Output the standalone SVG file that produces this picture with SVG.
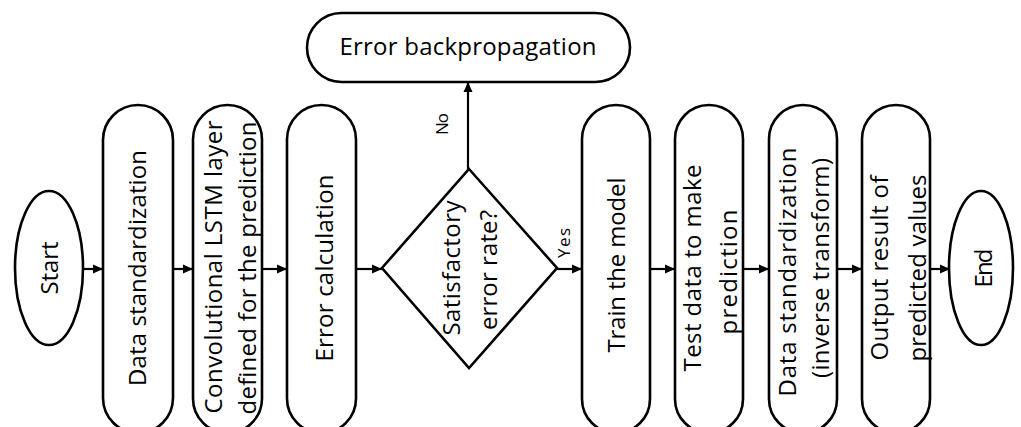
<svg xmlns="http://www.w3.org/2000/svg" width="1021" height="427" viewBox="0 0 1021 427">
<style>
.shape{fill:#fff;stroke:#000;stroke-width:2.6}
.t{font-family:"Open Sans","Noto Sans",sans-serif;font-size:24px;fill:#000;text-anchor:middle}
.s{font-family:"Open Sans","Noto Sans",sans-serif;font-size:17px;fill:#000;text-anchor:middle}
.c{stroke:#000;stroke-width:2.2;fill:none;marker-end:url(#ah)}
</style>
<defs>
<marker id="ah" viewBox="0 0 10 10" refX="10" refY="5" markerWidth="10" markerHeight="10" markerUnits="userSpaceOnUse" orient="auto">
<path d="M0,0.5 L10,5 L0,9.5 z" fill="#000"/>
</marker>
</defs>
<rect width="1021" height="427" fill="#fff"/>
<g id="connectors">
<line class="c" x1="83" y1="269" x2="103" y2="269"/>
<line class="c" x1="173" y1="269" x2="193" y2="269"/>
<line class="c" x1="262" y1="269" x2="287" y2="269"/>
<line class="c" x1="356" y1="269" x2="382" y2="269"/>
<line class="c" x1="557" y1="269" x2="582" y2="269"/>
<line class="c" x1="650" y1="269" x2="675" y2="269"/>
<line class="c" x1="743" y1="269" x2="769" y2="269"/>
<line class="c" x1="837" y1="269" x2="862" y2="269"/>
<line class="c" x1="930" y1="269" x2="950" y2="269"/>
<line class="c" x1="468" y1="169" x2="468" y2="82"/>
<text class="s" transform="translate(448,124) rotate(-90)" textLength="22" lengthAdjust="spacing">No</text>
<text class="s" transform="translate(570,243) rotate(-90)" textLength="30" lengthAdjust="spacing">Yes</text>
</g>
<g id="start">
<ellipse class="shape" cx="49" cy="268" rx="34" ry="77"/>
<text class="t" transform="translate(58,268) rotate(-90)" textLength="53" lengthAdjust="spacing">Start</text>
</g>
<g id="data-std">
<rect class="shape" x="103" y="105" width="70" height="328" rx="35"/>
<text class="t" transform="translate(146,268) rotate(-90)" textLength="236" lengthAdjust="spacing">Data standardization</text>
</g>
<g id="convlstm">
<rect class="shape" x="193" y="105" width="69" height="328" rx="34.5"/>
<text class="t" transform="translate(222,267) rotate(-90)" textLength="293" lengthAdjust="spacing">Convolutional LSTM layer</text>
<text class="t" transform="translate(256,268) rotate(-90)" textLength="293" lengthAdjust="spacing">defined for the prediction</text>
</g>
<g id="error-calc">
<rect class="shape" x="287" y="105" width="69" height="328" rx="34.5"/>
<text class="t" transform="translate(333,268) rotate(-90)" textLength="187" lengthAdjust="spacing">Error calculation</text>
</g>
<g id="decision">
<polygon class="shape" points="469,169 557,268 469,368 382,268"/>
<text class="t" transform="translate(460,268) rotate(-90)" textLength="135" lengthAdjust="spacing">Satisfactory</text>
<text class="t" transform="translate(497,270) rotate(-90)" textLength="120" lengthAdjust="spacing">error rate?</text>
</g>
<g id="backprop">
<rect class="shape" x="307" y="13" width="323" height="69" rx="34.5"/>
<text class="t" x="468" y="55" textLength="257" lengthAdjust="spacing">Error backpropagation</text>
</g>
<g id="train">
<rect class="shape" x="582" y="105" width="68" height="328" rx="34"/>
<text class="t" transform="translate(625,265) rotate(-90)" textLength="175" lengthAdjust="spacing">Train the model</text>
</g>
<g id="test">
<rect class="shape" x="675" y="105" width="68" height="328" rx="34"/>
<text class="t" transform="translate(701,268) rotate(-90)" textLength="207" lengthAdjust="spacing">Test data to make</text>
<text class="t" transform="translate(737,272) rotate(-90)" textLength="125" lengthAdjust="spacing">prediction</text>
</g>
<g id="data-inv">
<rect class="shape" x="769" y="105" width="68" height="328" rx="34"/>
<text class="t" transform="translate(796,272) rotate(-90)" textLength="249" lengthAdjust="spacing">Data standardization</text>
<text class="t" transform="translate(829,268) rotate(-90)" textLength="220" lengthAdjust="spacing">(inverse transform)</text>
</g>
<g id="output">
<rect class="shape" x="862" y="105" width="68" height="328" rx="34"/>
<text class="t" transform="translate(888,268) rotate(-90)" textLength="185" lengthAdjust="spacing">Output result of</text>
<text class="t" transform="translate(926,268) rotate(-90)" textLength="187" lengthAdjust="spacing">predicted values</text>
</g>
<g id="end">
<ellipse class="shape" cx="981" cy="268" rx="32" ry="77"/>
<text class="t" transform="translate(992,268) rotate(-90)" textLength="39" lengthAdjust="spacing">End</text>
</g>
</svg>
